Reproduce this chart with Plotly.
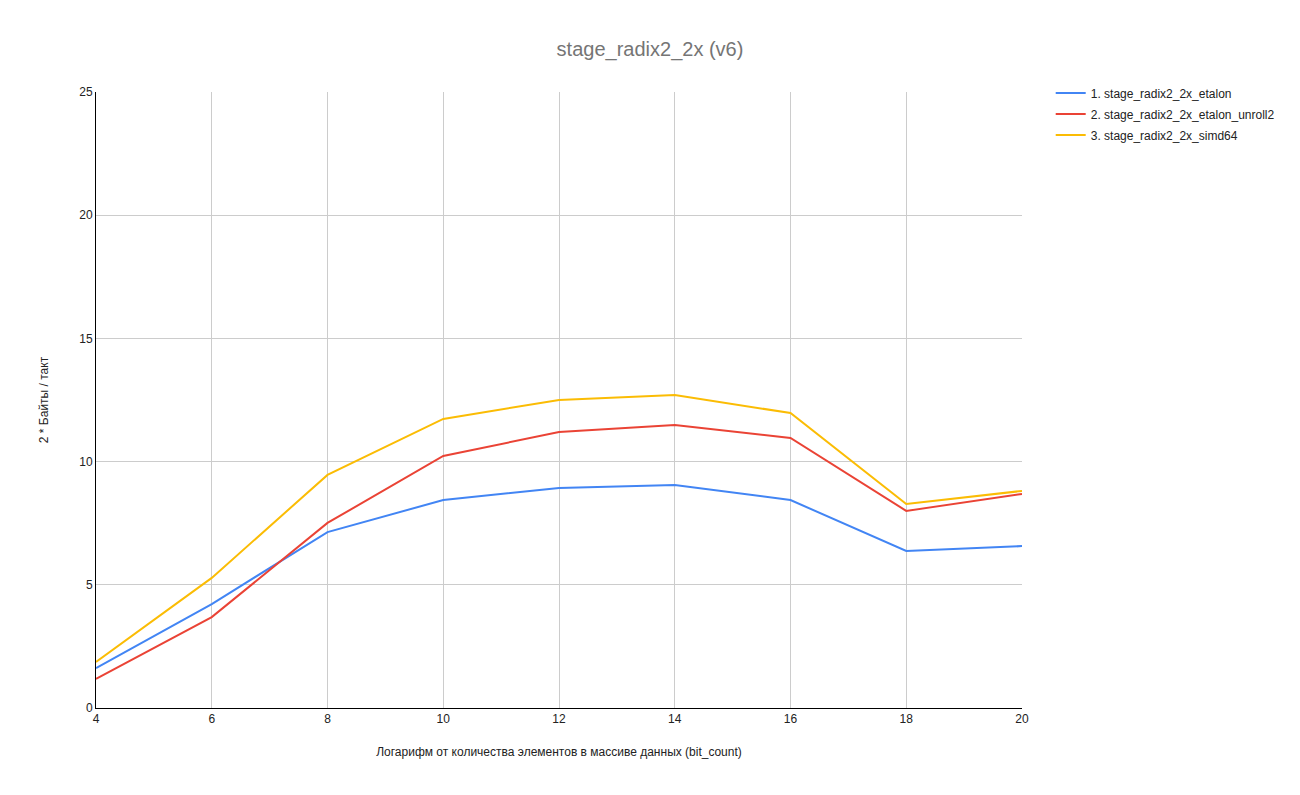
import plotly.graph_objects as go

x_vals = [4, 6, 8, 10, 12, 14, 16, 18, 20]
etalon = [1.62, 4.22, 7.14, 8.44, 8.93, 9.05, 8.44, 6.37, 6.57]
etalon_unroll2 = [1.18, 3.69, 7.51, 10.23, 11.2, 11.49, 10.96, 8.0, 8.69]
simd64 = [1.87, 5.28, 9.46, 11.73, 12.5, 12.7, 11.97, 8.28, 8.81]

names = ["1. stage_radix2_2x_etalon", "2. stage_radix2_2x_etalon_unroll2", "3. stage_radix2_2x_simd64"]
colors = ["#4285F4", "#EA4335", "#FBBC04"]
series = [etalon, etalon_unroll2, simd64]

fig = go.Figure()
for i, (n, c, s) in enumerate(zip(names, colors, series)):
    fig.add_trace(go.Scatter(x=x_vals, y=s, name=n, mode="lines", legendgroup=f"g{i}",
                             line=dict(color=c, width=2)))

fig.update_layout(
    width=1300, height=795,
    paper_bgcolor="white", plot_bgcolor="white",
    font=dict(family="Arial, Liberation Sans, sans-serif", size=12, color="#222222"),
    title=dict(text="stage_radix2_2x (v6)", x=0.5, xref="container", xanchor="center",
               y=0.938, yref="container", yanchor="middle",
               font=dict(size=20, color="#757575")),
    margin=dict(l=96, r=278, t=92, b=87),
    legend=dict(x=1.031, xanchor="left", y=1.022, yanchor="top",
                font=dict(size=12, color="#222222"), tracegroupgap=2),
    xaxis=dict(range=[4, 20], tickvals=[4, 6, 8, 10, 12, 14, 16, 18, 20],
               showgrid=True, gridcolor="#cccccc", gridwidth=1,
               showline=True, linecolor="#000000", linewidth=1,
               zeroline=False, ticks="", tickfont=dict(size=12, color="#222222"),
               title=dict(text="Логарифм от количества элементов в массиве данных (bit_count)",
                          font=dict(size=12, color="#222222"), standoff=22)),
    yaxis=dict(range=[0, 25], tickvals=[0, 5, 10, 15, 20, 25],
               showgrid=True, gridcolor="#cccccc", gridwidth=1,
               showline=True, linecolor="#000000", linewidth=1,
               zeroline=False, ticks="", tickfont=dict(size=12, color="#222222"),
               title=dict(text="2 * Байты / такт", font=dict(size=12, color="#222222"),
                          standoff=28)),
)

fig.write_html("out.html")
